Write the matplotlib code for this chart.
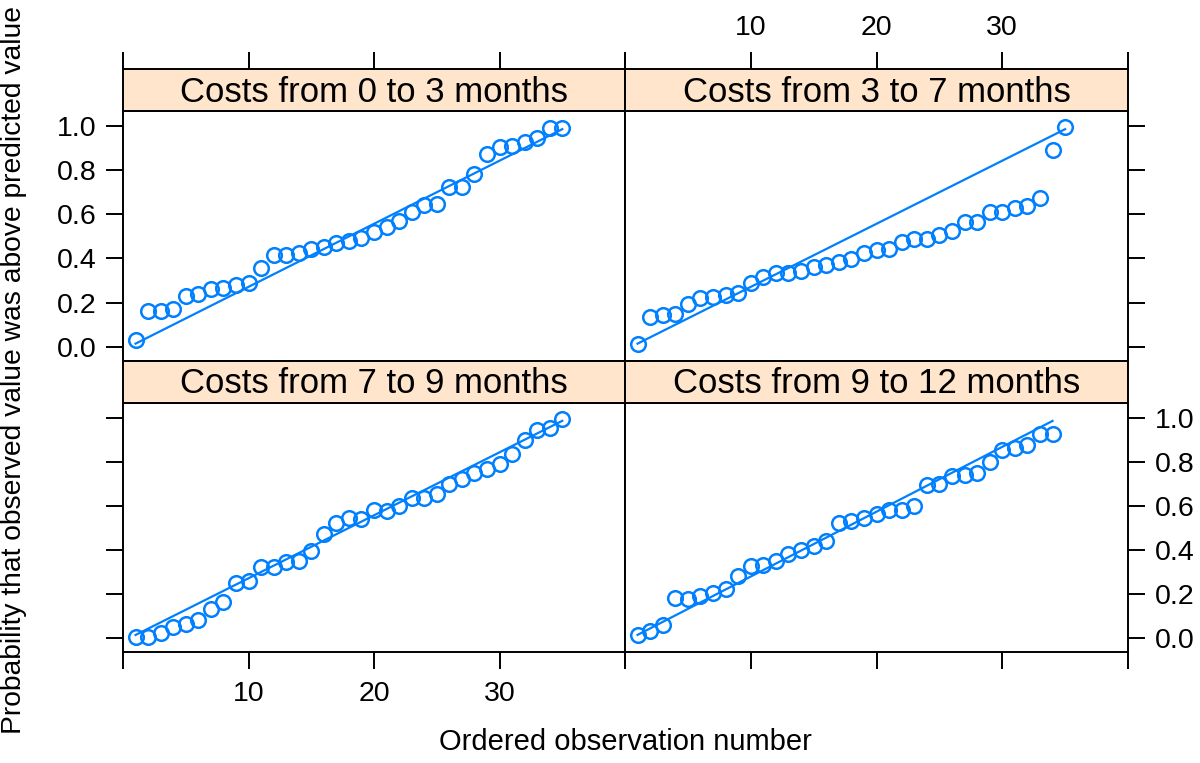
import numpy as np
import matplotlib
matplotlib.use("Agg")
import matplotlib.pyplot as plt
from matplotlib import font_manager

# ---------------- data ----------------
panel_titles = ["Costs from 0 to 3 months", "Costs from 3 to 7 months",
                "Costs from 7 to 9 months", "Costs from 9 to 12 months"]

y_0_3 = [0.033, 0.163, 0.163, 0.169, 0.229, 0.238, 0.264, 0.267, 0.278, 0.291,
         0.359, 0.415, 0.418, 0.423, 0.445, 0.450, 0.472, 0.481, 0.493, 0.520,
         0.543, 0.570, 0.611, 0.641, 0.649, 0.724, 0.724, 0.781, 0.871, 0.905,
         0.910, 0.928, 0.946, 0.991, 0.990]

y_3_7 = [0.014, 0.137, 0.143, 0.147, 0.193, 0.219, 0.224, 0.234, 0.244, 0.290,
         0.317, 0.332, 0.332, 0.343, 0.362, 0.370, 0.382, 0.397, 0.423, 0.438,
         0.442, 0.475, 0.486, 0.490, 0.505, 0.524, 0.566, 0.566, 0.611, 0.611,
         0.629, 0.638, 0.674, 0.890, 0.995]

y_7_9 = [0.003, 0.005, 0.022, 0.050, 0.062, 0.080, 0.130, 0.164, 0.248, 0.260,
         0.321, 0.324, 0.344, 0.348, 0.394, 0.473, 0.524, 0.545, 0.541, 0.580,
         0.575, 0.601, 0.636, 0.636, 0.654, 0.697, 0.720, 0.747, 0.765, 0.788,
         0.833, 0.897, 0.942, 0.955, 0.992]

y_9_12 = [0.012, 0.032, 0.058, 0.182, 0.179, 0.192, 0.204, 0.224, 0.280, 0.329,
          0.333, 0.348, 0.382, 0.401, 0.417, 0.439, 0.523, 0.530, 0.545, 0.563,
          0.583, 0.583, 0.601, 0.694, 0.700, 0.735, 0.742, 0.748, 0.798, 0.853,
          0.864, 0.876, 0.924, 0.924]

panel_values = [y_0_3, y_3_7, y_7_9, y_9_12]

x_ticks = [0, 10, 20, 30, 40]
x_tick_labels = ["", "10", "20", "30", ""]
y_ticks = [0.0, 0.2, 0.4, 0.6, 0.8, 1.0]
y_tick_labels = ["0.0", "0.2", "0.4", "0.6", "0.8", "1.0"]

x_label = "Ordered observation number"
y_label = "Probability that observed value was above predicted value"

# ---------------- style ----------------
names = {f.name for f in font_manager.fontManager.ttflist}
narrow = "Liberation Sans Narrow" if "Liberation Sans Narrow" in names else "Liberation Sans"
regular = "Liberation Sans"
plt.rcParams["font.family"] = [regular, "DejaVu Sans"]

blue = "#0080ff"
strip_col = "#ffe5cc"

W, H = 1200, 763
fig = plt.figure(figsize=(W / 100, H / 100), dpi=100)

def frac(x0, y0, x1, y1):
    return [x0 / W, 1 - y1 / H, (x1 - x0) / W, (y1 - y0) / H]

cols = [(123, 625), (625, 1128)]
rows = [((69, 111), (111, 360.7)), ((360.7, 402.7), (402.7, 652))]
xlim = (0, 40)
ylim = (-0.063, 1.068)
tick_len = 12
lw_box = 1.4

for idx in range(4):
    r, c = divmod(idx, 2)
    (sx0, sx1) = cols[c]
    (st, sb), (pt, pb) = rows[r]
    ax = fig.add_axes(frac(sx0, pt, sx1, pb))
    sax = fig.add_axes(frac(sx0, st, sx1, sb))

    vals = np.array(panel_values[idx])
    n = len(vals)
    xs = np.arange(1, n + 1)
    ref = (xs - 0.5) / n
    ax.plot(xs, ref, color=blue, lw=1.6, zorder=2)
    ax.plot(xs, vals, linestyle="none", marker="o", ms=10.5, mfc="none",
            mec=blue, mew=1.8, zorder=3)
    ax.set_xlim(*xlim)
    ax.set_ylim(*ylim)
    for sp in ax.spines.values():
        sp.set_linewidth(lw_box)

    # y axis (alternating)
    ax.set_yticks(y_ticks)
    ax.set_yticklabels(y_tick_labels)
    if c == 0:
        ax.tick_params(axis="y", left=True, right=False,
                       labelleft=(r == 0), labelright=False)
    else:
        ax.tick_params(axis="y", left=False, right=True,
                       labelleft=False, labelright=(r == 1))
    ax.tick_params(axis="y", direction="out", length=tick_len, width=lw_box,
                   labelsize=20.5, pad=7)

    # x axis
    ax.set_xticks(x_ticks)
    ax.set_xticklabels(x_tick_labels)
    ax.tick_params(axis="x", direction="out", length=tick_len, width=lw_box,
                   labelsize=20.5, pad=9, top=False,
                   bottom=(r == 1), labelbottom=(r == 1 and c == 0))
    for lab in ax.get_xticklabels():
        lab.set_fontfamily([narrow, "DejaVu Sans"])

    # strip
    sax.set_facecolor(strip_col)
    sax.set_xlim(*xlim)
    sax.set_ylim(0, 1)
    sax.set_yticks([])
    sax.set_xticks(x_ticks)
    sax.set_xticklabels(x_tick_labels)
    sax.tick_params(axis="x", direction="out", length=tick_len, width=lw_box,
                    labelsize=20.5, pad=8, bottom=False, labelbottom=False,
                    top=(r == 0), labeltop=(r == 0 and c == 1))
    for lab in sax.get_xticklabels():
        lab.set_fontfamily([narrow, "DejaVu Sans"])
    for sp in sax.spines.values():
        sp.set_linewidth(lw_box)
    sax.text(0.5, 0.45, panel_titles[idx], transform=sax.transAxes,
             ha="center", va="center", fontsize=25,
             family=[narrow, "DejaVu Sans"])

fig.text(625 / W, 1 - 742 / H, x_label, ha="center", va="center",
         fontsize=21, family=[narrow, "DejaVu Sans"])
fig.text(14 / W, 1 - 370 / H, y_label, ha="center", va="center",
         rotation=90, fontsize=20.3)

fig.savefig("out.png", dpi=100)
